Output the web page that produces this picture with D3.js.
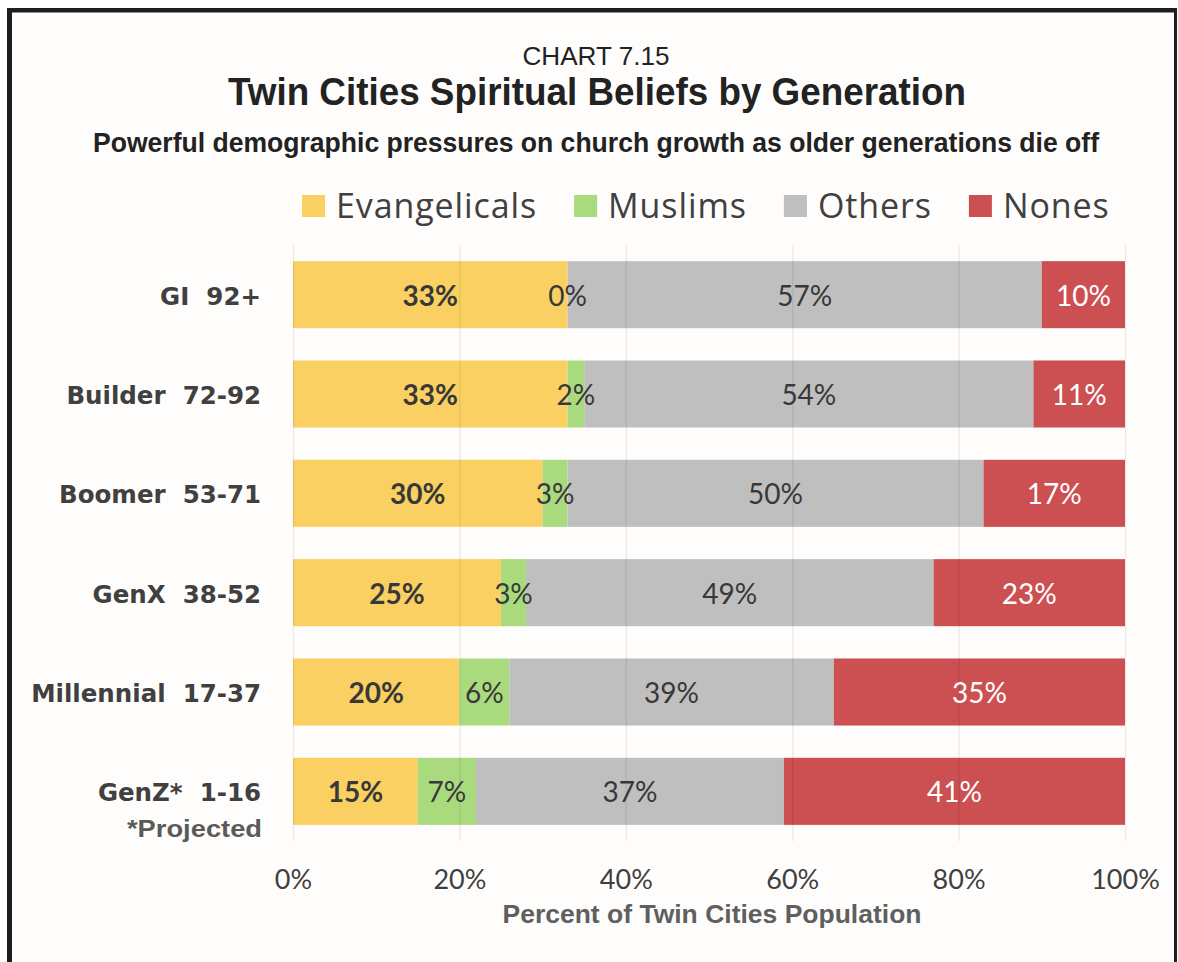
<!DOCTYPE html>
<html>
<head>
<meta charset="utf-8">
<script src="https://cdn.jsdelivr.net/npm/d3@7"></script>
<style>
  html, body { margin: 0; padding: 0; background: #ffffff; }
  svg { display: block; }
</style>
</head>
<body>
<svg id="chart" width="1178" height="962"></svg>
<script>
// ---- data ----
const categories = ["GI  92+", "Builder  72-92", "Boomer  53-71", "GenX  38-52", "Millennial  17-37", "GenZ*  1-16"];
const seriesNames = ["Evangelicals", "Muslims", "Others", "Nones"];
const evangelicals = [33, 33, 30, 25, 20, 15];
const muslims = [0, 2, 3, 3, 6, 7];
const others = [57, 54, 50, 49, 39, 37];
const nones = [10, 11, 17, 23, 35, 41];
const tickValues = [0, 20, 40, 60, 80, 100];
const colors = ["#f9d061", "#a9da7e", "#bfbfbf", "#cc4f51"];

const chartLabel = "CHART 7.15";
const titleText = "Twin Cities Spiritual Beliefs by Generation";
const subtitleText = "Powerful demographic pressures on church growth as older generations die off";
const xAxisTitle = "Percent of Twin Cities Population";
const footnote = "*Projected";

// ---- build table ----
const table = categories.map((c, i) => ({
  category: c,
  Evangelicals: evangelicals[i],
  Muslims: muslims[i],
  Others: others[i],
  Nones: nones[i]
}));
const stacked = d3.stack().keys(seriesNames)(table);

const svg = d3.select("#chart");
const W = 1178, H = 962;

// frame
svg.append("rect").attr("x", 0).attr("y", 0).attr("width", W).attr("height", H).attr("fill", "#ffffff");
svg.append("rect").attr("x", 9).attr("y", 10).attr("width", 1166).attr("height", 1000).attr("fill", "#fefdfb");
svg.append("line").attr("x1", 9.5).attr("x2", 9.5).attr("y1", 8).attr("y2", H).attr("stroke", "#1e1e1e").attr("stroke-width", 5);
svg.append("line").attr("x1", 7).attr("x2", 1177).attr("y1", 10.3).attr("y2", 10.3).attr("stroke", "#1e1e1e").attr("stroke-width", 4.5);
svg.append("line").attr("x1", 1175.5).attr("x2", 1175.5).attr("y1", 8).attr("y2", H).attr("stroke", "#1e1e1e").attr("stroke-width", 3);

function fit(sel, w) {
  const l = sel.node().getComputedTextLength();
  if (Math.abs(l - w) / w > 0.01) sel.attr("textLength", w).attr("lengthAdjust", "spacingAndGlyphs");
  return sel;
}

// titles
const titleFont = "'Liberation Sans', Arial, Helvetica, sans-serif";
svg.append("text").attr("x", 596).attr("y", 65).attr("text-anchor", "middle")
  .attr("font-family", titleFont).attr("font-size", 25.5).attr("fill", "#222").text(chartLabel)
  .call(s => fit(s, 147));
svg.append("text").attr("x", 597).attr("y", 105).attr("text-anchor", "middle")
  .attr("font-family", titleFont).attr("font-weight", "bold").attr("font-size", 39).attr("fill", "#222").text(titleText)
  .call(s => fit(s, 738));
svg.append("text").attr("x", 596).attr("y", 152).attr("text-anchor", "middle")
  .attr("font-family", titleFont).attr("font-weight", "bold").attr("font-size", 28).attr("fill", "#222").text(subtitleText)
  .call(s => fit(s, 1006));

// scales
const x = d3.scaleLinear().domain([0, 100]).range([293, 1125]);
const y = d3.scaleBand().domain(categories).range([245, 841]).paddingInner(0.325).paddingOuter(0.1625);

// bars
const layers = svg.append("g").selectAll("g").data(stacked).join("g")
  .attr("fill", (d, i) => colors[i]);
layers.selectAll("rect").data(d => d).join("rect")
  .attr("x", d => x(d[0]))
  .attr("width", d => x(d[1]) - x(d[0]))
  .attr("y", d => y(d.data.category))
  .attr("height", y.bandwidth());

// gridlines (over bars, translucent)
const xAxis = d3.axisBottom(x).tickValues(tickValues).tickFormat(d => d + "%")
  .tickSize(-(841 - 245)).tickPadding(0);
const gx = svg.append("g").attr("transform", "translate(0,841)").call(xAxis);
gx.select(".domain").remove();
gx.selectAll(".tick line").attr("stroke", "#000").attr("stroke-opacity", 0.07).attr("stroke-width", 1.5);
gx.selectAll(".tick text").attr("y", 48).attr("dy", 0)
  .attr("font-family", "Lato, 'Open Sans', sans-serif").attr("font-size", 27).attr("fill", "#3f3f3f");

// value labels (drawn after all bars)
const labelFont = "Lato, 'Open Sans', sans-serif";
const labelLayer = svg.append("g");
stacked.forEach((layer, li) => {
  labelLayer.append("g").selectAll("text").data(layer).join("text")
    .attr("x", d => (x(d[0]) + x(d[1])) / 2)
    .attr("y", d => y(d.data.category) + y.bandwidth() / 2 + 11)
    .attr("text-anchor", "middle")
    .attr("font-family", labelFont)
    .attr("font-size", 28)
    .attr("font-weight", li === 0 ? "bold" : "normal")
    .attr("fill", li === 3 ? "#ffffff" : "#383838")
    .text(d => (d[1] - d[0]) + "%");
});

// category labels
svg.append("g").selectAll("text").data(categories).join("text")
  .attr("x", 261)
  .attr("y", d => y(d) + y.bandwidth() / 2 + 10)
  .attr("text-anchor", "end")
  .attr("font-family", "'DejaVu Sans', Verdana, sans-serif")
  .attr("font-weight", "bold")
  .attr("font-size", 24.5)
  .attr("fill", "#404040")
  .style("white-space", "pre")
  .text(d => d);

svg.append("text").attr("x", 262).attr("y", 837).attr("text-anchor", "end")
  .attr("font-family", titleFont).attr("font-weight", "bold").attr("font-size", 24)
  .attr("fill", "#5a5a5a").text(footnote).call(s => fit(s, 135));

// axis title
svg.append("text").attr("x", 712).attr("y", 923).attr("text-anchor", "middle")
  .attr("font-family", titleFont).attr("font-weight", "bold").attr("font-size", 26)
  .attr("fill", "#5f5f5f").text(xAxisTitle).call(s => fit(s, 419));

// legend
const legend = svg.append("g");
let lx = 302;
seriesNames.forEach((name, i) => {
  legend.append("rect").attr("x", lx).attr("y", 195).attr("width", 23).attr("height", 22).attr("fill", colors[i]);
  const t = legend.append("text").attr("x", lx + 34).attr("y", 218)
    .attr("font-family", "'Open Sans', Lato, sans-serif").attr("font-size", 34)
    .attr("letter-spacing", 0.9)
    .attr("fill", "#404040").text(name);
  lx += 34 + t.node().getComputedTextLength() + 37;
});
</script>
</body>
</html>
